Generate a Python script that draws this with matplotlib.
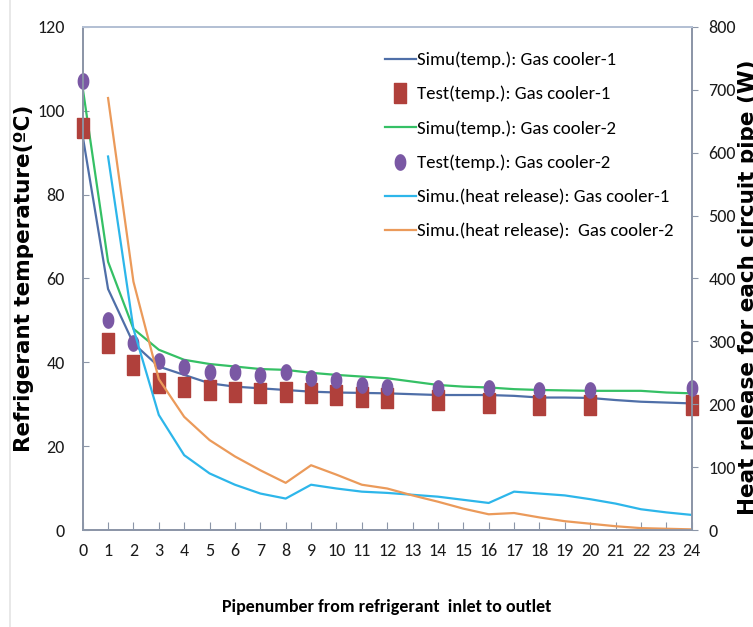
import numpy as np
import matplotlib
matplotlib.use("Agg")
import matplotlib.pyplot as plt
from matplotlib.lines import Line2D

# pipe numbers along the category axis
pipes = list(range(25))
tick_labels = [str(p) for p in pipes]

# simulated refrigerant temperature (C), pipes 0..24
simu_temp_gc1 = [94, 57.5, 44.5, 39, 37, 35, 34.2, 33.8, 33.4, 33, 32.8, 32.7, 32.6,
                 32.4, 32.2, 32.2, 32.2, 32, 31.6, 31.6, 31.5, 31, 30.6, 30.4, 30.2]
simu_temp_gc2 = [105.5, 64, 48, 43, 40.6, 39.6, 39, 38.4, 38.2, 37.5, 37, 36.6, 36.2,
                 35.4, 34.6, 34.2, 34, 33.6, 33.4, 33.3, 33.2, 33.2, 33.2, 32.8, 32.6]

# measured temperatures
test_pipes = [0, 1, 2, 3, 4, 5, 6, 7, 8, 9, 10, 11, 12, 14, 16, 18, 20, 24]
test_temp_gc1 = [96, 44.6, 39.4, 35, 34.1, 33.3, 33, 32.6, 33, 32.6, 32.2, 31.8, 31.4,
                 31, 30.3, 29.8, 29.8, 29.8]
test_temp_gc2 = [107, 50, 44.6, 40.2, 39, 37.8, 37.8, 37, 37.8, 36.2, 35.8, 34.6, 34.2,
                 33.8, 33.8, 33.4, 33.4, 33.8]

# simulated heat release per pipe (W), pipes 1..24
heat_pipes = list(range(1, 25))
heat_gc1 = [594, 320, 183, 119, 90, 72, 58, 50, 72, 66, 61, 59, 56, 53, 48, 43,
            61, 58, 55, 49, 42, 33, 28, 24]
heat_gc2 = [687, 395, 240, 180, 143, 117, 95, 75, 103, 88, 72, 66, 55, 45, 34, 25,
            27, 20, 14, 10, 6, 3, 2, 1]

# Carlito is metric compatible with Calibri (the original is an Excel chart)
plt.rcParams['font.family'] = ['Carlito', 'DejaVu Sans']

spine_col = '#8c96a8'
c_blue = '#4f6fa8'
c_red = '#b0403b'
c_green = '#35c065'
c_purple = '#7a58a4'
c_cyan = '#2db6ea'
c_orange = '#eb9a5a'

# tall box and ellipse markers (the original is stretched vertically)
rect = [(-0.58, -1), (0.58, -1), (0.58, 1), (-0.58, 1), (-0.58, -1)]
t = np.linspace(0, 2 * np.pi, 40)
ell = list(zip(0.68 * np.cos(t), np.sin(t)))

fig = plt.figure(figsize=(7.53, 6.27), dpi=100)
ax = fig.add_axes([0.1098, 0.1547, 0.8088, 0.8023])
ax2 = ax.twinx()

l1, = ax.plot(pipes, simu_temp_gc1, color=c_blue, lw=1.6, label='Simu(temp.): Gas cooler-1')
m1, = ax.plot(test_pipes, test_temp_gc1, ls='none', marker=rect, ms=14, color=c_red,
              label='Test(temp.): Gas cooler-1', clip_on=False, zorder=4)
l2, = ax.plot(pipes, simu_temp_gc2, color=c_green, lw=1.6, label='Simu(temp.): Gas cooler-2')
m2, = ax.plot(test_pipes, test_temp_gc2, ls='none', marker=ell, ms=11, color=c_purple,
              label='Test(temp.): Gas cooler-2', clip_on=False, zorder=4)
h1, = ax2.plot(heat_pipes, heat_gc1, color=c_cyan, lw=1.6,
               label='Simu.(heat release): Gas cooler-1')
h2, = ax2.plot(heat_pipes, heat_gc2, color=c_orange, lw=1.6,
               label='Simu.(heat release):  Gas cooler-2')

ax.set_xlim(0, 24)
ax.set_ylim(0, 120)
ax2.set_ylim(0, 800)
ax.set_xticks(pipes)
ax.set_xticklabels(tick_labels)
ax.set_yticks(range(0, 121, 20))
ax2.set_yticks(range(0, 801, 100))

for a in (ax, ax2):
    for s in a.spines.values():
        s.set_color(spine_col)
        s.set_linewidth(1.3)
ax2.spines['top'].set_color('#b8c4d8')

ax.tick_params(axis='x', direction='in', length=6, color=spine_col, pad=9, labelsize=13,
               labelcolor='#1a1a1a')
ax.tick_params(axis='y', direction='in', length=4, color=spine_col, pad=13, labelsize=13,
               labelcolor='#1a1a1a')
ax2.tick_params(axis='y', direction='out', length=4, color=spine_col, pad=8, labelsize=13,
                labelcolor='#1a1a1a')

fig.text(387 / 753, 1 - 607 / 627, 'Pipenumber from refrigerant  inlet to outlet',
         ha='center', va='center', fontsize=13, fontweight='bold')
fig.text(0.032, 1 - 278 / 627, 'Refrigerant temperature(\u00baC)', rotation=90, ha='center',
         va='center', fontsize=15.5, fontweight='bold', family='DejaVu Sans')
fig.text(0.993, 1 - 287 / 627, 'Heat release for each circuit pipe (W)', rotation=90,
         ha='center', va='center', fontsize=15.5, fontweight='bold', family='DejaVu Sans')

# faint border line at the left edge of the screenshot
fig.add_artist(Line2D([10 / 753, 10 / 753], [0, 1], transform=fig.transFigure,
                      color='#e4e4e4', lw=1.2))

leg = ax2.legend(handles=[l1, m1, l2, m2, h1, h2], loc='upper left',
                 bbox_to_anchor=(377 / 753, 1 - 44 / 627), bbox_transform=fig.transFigure,
                 frameon=False, fontsize=13.5, handlelength=1.7, handletextpad=0.05,
                 labelspacing=0.95, borderaxespad=0)

fig.savefig('out.png', dpi=100)
